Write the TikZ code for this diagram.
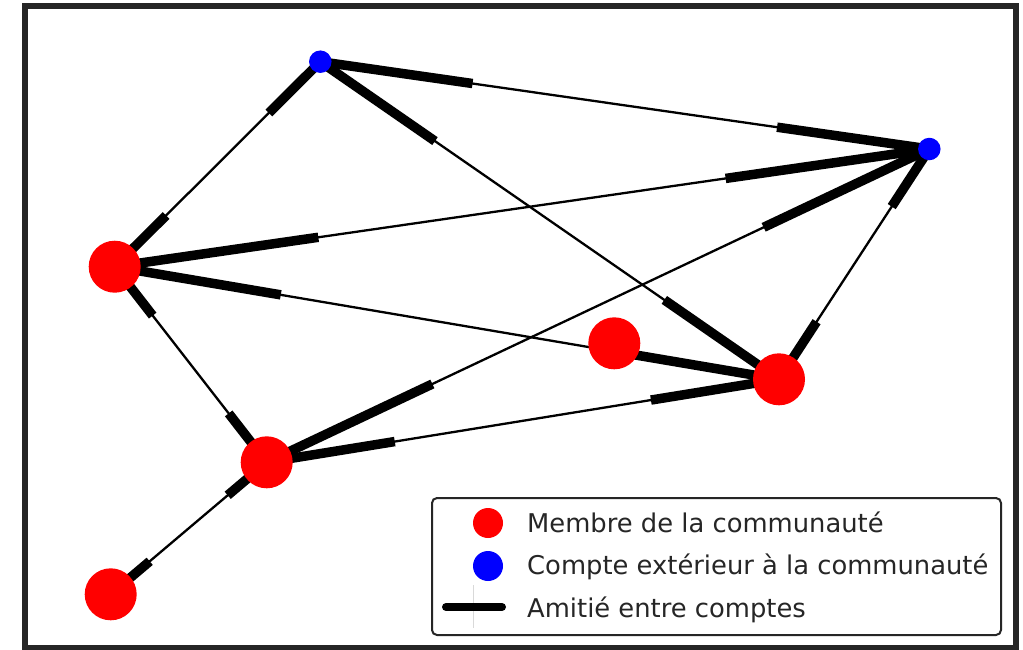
\documentclass[tikz,border=0pt]{standalone}
\usepackage{fontspec}
\setmainfont{DejaVu Sans}
\usetikzlibrary{calc,backgrounds}
\definecolor{framegray}{HTML}{262626}
\definecolor{txtgray}{HTML}{262626}
\tikzset{
  rnode/.style={circle,fill=red,draw=none,minimum size=52pt,inner sep=0pt},
  bnode/.style={circle,fill=blue,draw=none,minimum size=22.5pt,inner sep=0pt},
  thinedge/.style={line width=2.3pt,black},
  headseg/.style={line width=9.5pt,black,line cap=butt},
  legtext/.style={anchor=base west,font=\fontsize{25.8}{30}\selectfont,text=txtgray,inner sep=0pt},
  legdotr/.style={circle,fill=red,minimum size=30pt,inner sep=0pt},
  legdotb/.style={circle,fill=blue,minimum size=30pt,inner sep=0pt},
}
\newcommand{\biedge}[2]{%
  \draw[thinedge] (#1.center) -- (#2.center);
  \draw[headseg] ($(#1.center)!0.75!(#2.center)$) -- (#2.center);
  \draw[headseg] ($(#2.center)!0.75!(#1.center)$) -- (#1.center);
}
\begin{document}
\begin{tikzpicture}[x=1pt,y=-1pt]
\useasboundingbox (0,0) rectangle (1023,649);
% nodes
\node[bnode] (b1) at (320.3,61.7) {};
\node[bnode] (b2) at (929.3,149) {};
\node[rnode] (r1) at (114.7,266.7) {};
\node[rnode] (r2) at (614.3,343.3) {};
\node[rnode] (r3) at (779,379.3) {};
\node[rnode] (r4) at (266.7,462.3) {};
\node[rnode] (r5) at (110.7,594.3) {};
\begin{scope}[on background layer]
\fill[white] (0,0) rectangle (1023,649);
\biedge{b1}{r1}
\biedge{b1}{b2}
\biedge{b1}{r3}
\biedge{r1}{b2}
\biedge{r1}{r3}
\biedge{r1}{r4}
\biedge{r4}{b2}
\biedge{r4}{r3}
\biedge{r4}{r5}
\biedge{r3}{b2}
\end{scope}
% frame
\draw[framegray,line width=6pt] (24.5,6) rectangle (1015.7,647.5);
% legend
\draw[framegray,line width=2pt,rounded corners=5pt,fill=white] (432,498) rectangle (1001,635);
\node[legdotr] (ldr) at (488,523) {};
\node[legdotb] (ldb) at (488,566) {};
\coordinate (lla) at (446,607);
\coordinate (llb) at (502,607);
\coordinate (lva) at (473,585);
\coordinate (lvb) at (473,628);
\draw[black!15,line width=0.8pt] (lva) -- (lvb);
\draw[black,line width=8pt,line cap=round] (lla) -- (llb);
\node[legtext] (t1) at (527,532) {Membre de la communauté};
\node[legtext] (t2) at (527,574.5) {Compte extérieur à la communauté};
\node[legtext] (t3) at (527,617) {Amitié entre comptes};
\end{tikzpicture}
\end{document}
